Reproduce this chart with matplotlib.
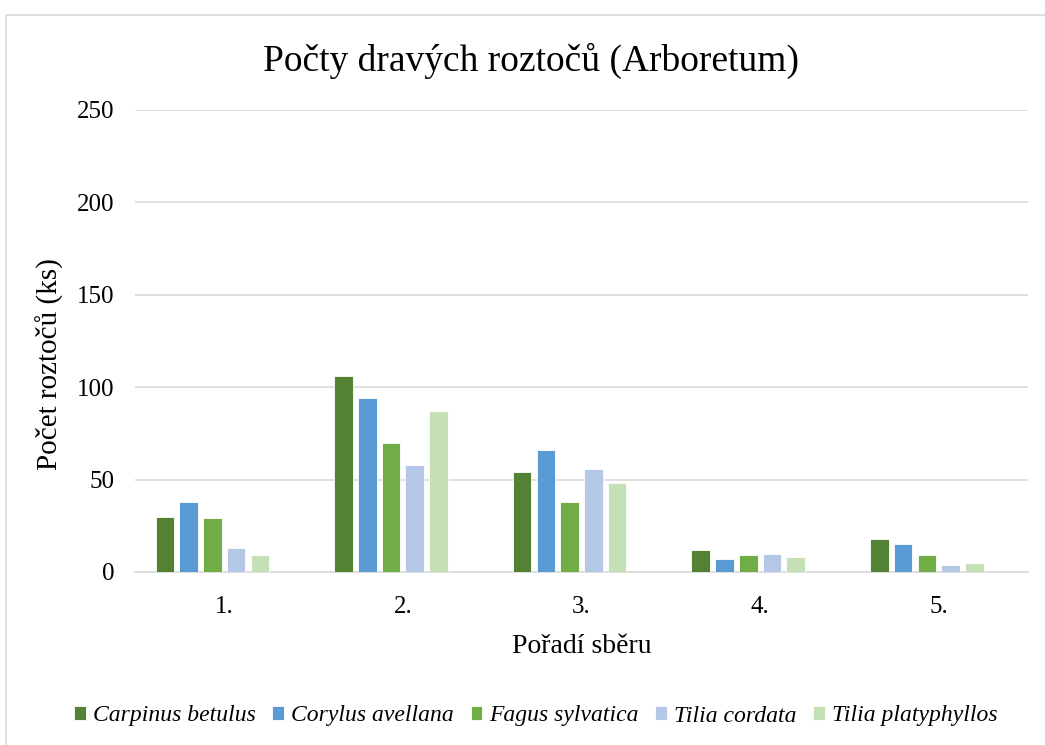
import matplotlib.pyplot as plt
import numpy as np
from matplotlib.patches import Rectangle

categories = ['1.', '2.', '3.', '4.', '5.']
species = ['Carpinus betulus', 'Corylus avellana', 'Fagus sylvatica',
           'Tilia cordata', 'Tilia platyphyllos']
carpinus = [30, 106, 54, 12, 18]
corylus = [38, 94, 66, 7, 15]
fagus = [29, 70, 38, 9, 9]
tilia_cordata = [13, 58, 56, 10, 4]
tilia_platy = [9, 87, 48, 8, 5]
colors = ['#548235', '#5B9BD5', '#70AD47', '#B4C7E7', '#C5E0B4']

plt.rcParams['font.family'] = ['Liberation Serif', 'DejaVu Serif']

W, H = 1045, 745
fig = plt.figure(figsize=(W / 100, H / 100), dpi=100)
fig.patches.append(Rectangle((6 / W, -0.01), 1.1, 1 - 15 / H + 0.01,
                             transform=fig.transFigure, fill=False,
                             edgecolor='#D9D9D9', linewidth=1.2))

ax = fig.add_axes([135 / W, (H - 572) / H, (1028 - 135) / W, (572 - 110) / H])

series = [carpinus, corylus, fagus, tilia_cordata, tilia_platy]
x = np.arange(len(categories))
slot = 0.133
width = 0.104
# Excel layout leaves room for a sixth (empty) series, so groups sit left of the tick
for i, (vals, name, c) in enumerate(zip(series, species, colors)):
    ax.bar(x + (i - 2.5) * slot, vals, width, color=c, label=name,
           edgecolor='white', linewidth=0.6, zorder=3)

ax.set_xlim(-0.5, 4.5)
ax.set_ylim(0, 250)
ax.set_yticks(range(0, 251, 50))
ax.set_xticks(x)
ax.set_xticklabels(categories)
ax.yaxis.grid(True, color='#D9D9D9', linewidth=1.2, zorder=0)
for s in ['top', 'right', 'left']:
    ax.spines[s].set_visible(False)
ax.spines['bottom'].set_color('#D9D9D9')
ax.spines['bottom'].set_linewidth(1.2)
ax.tick_params(axis='both', length=0, labelsize=18, colors='black')
ax.tick_params(axis='y', pad=15)
ax.tick_params(axis='x', pad=17)

fig.text(531 / W, 1 - 61 / H, 'Počty dravých roztočů (Arboretum)',
         fontsize=27, ha='center', va='center')
ax.set_xlabel('Pořadí sběru', fontsize=20, labelpad=12)
fig.text(50 / W, 1 - 364 / H, 'Počet roztočů (ks)', fontsize=21,
         rotation=90, ha='center', va='center')

leg = fig.legend(loc='center', bbox_to_anchor=(536 / W, (H - 716) / H), ncol=5,
                 frameon=False, prop={'style': 'italic', 'size': 17},
                 handlelength=0.5, handleheight=0.5, handletextpad=0.3,
                 columnspacing=0.7)

fig.savefig('out.png', dpi=100)
